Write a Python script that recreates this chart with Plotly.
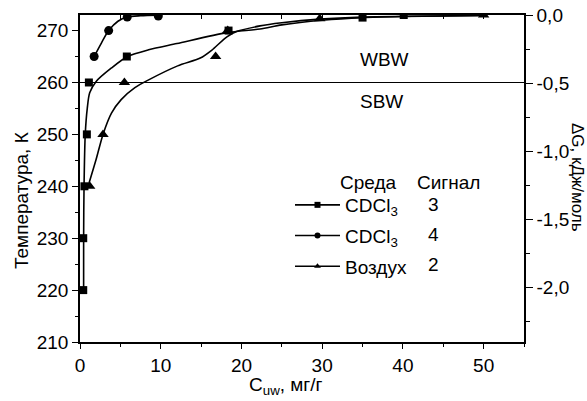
import plotly.graph_objects as go

# Measured points: temperature (K) vs unfrozen water content C_uw (mg/g)
sq_x = [0.4, 0.4, 0.55, 0.85, 1.1, 5.8, 18.4, 35.0, 40.1]
sq_y = [220, 230, 240, 250, 260, 265, 270, 272.5, 273.0]
ci_x = [1.75, 3.55, 5.85, 9.7]
ci_y = [265, 270, 272.6, 272.8]
tr_x = [1.2, 2.85, 5.5, 16.8, 18.3, 29.7, 50.0]
tr_y = [240, 250, 260, 265, 270, 272.3, 273.0]

# Smoothed curves through each data set
sq_fit_x = [0.45, 0.45, 0.5, 0.65, 0.9, 1.2, 2.0, 3.9, 5.9, 8.5, 12.0, 18.2, 22.3, 25.0, 30.0, 35.0, 40.0, 50.0]
sq_fit_y = [220, 230, 240, 250, 255, 258, 260.2, 262.8, 265.0, 266.3, 267.5, 269.6, 270.3, 271.1, 272.0, 272.5, 272.7, 272.9]
ci_fit_x = [1.75, 2.65, 3.55, 4.7, 5.85, 7.5, 9.7]
ci_fit_y = [265, 267.6, 270, 271.8, 272.6, 272.85, 272.95]
tr_fit_x = [1.0, 2.0, 2.85, 3.9, 5.1, 6.8, 8.5, 12.1, 14.9, 16.3, 18.2, 19.4, 22.3, 25.0, 29.7, 35.0, 50.0]
tr_fit_y = [240, 245.2, 250, 254.1, 256.7, 259.0, 260.5, 263.2, 264.7, 266.2, 268.8, 269.8, 270.9, 271.5, 272.2, 272.6, 272.9]

series_names = ["CDCl<sub>3</sub>", "CDCl<sub>3</sub>", "Воздух<sub> </sub>"]
signal_labels = ["3", "4", "2"]

# Axis ticks
x_ticks = [0, 10, 20, 30, 40, 50]
t_ticks = [210, 220, 230, 240, 250, 260, 270]
g_ticks = [0.0, -0.5, -1.0, -1.5, -2.0]
g_text = ["0,0", "-0,5", "-1,0", "-1,5", "-2,0"]

boundary_T = 260

W, H = 587, 401
L, R, T, B = 80, 63, 15, 59
PW, PH = W - L - R, H - T - B
FONT = "Liberation Sans, Arial, sans-serif"
FS = 19


def px(xp):
    return (xp - L) / PW


def py(yp):
    return (H - B - yp) / PH


fig = go.Figure()

line_style = dict(color="black", width=1.6, shape="spline", smoothing=0.8)
for fx, fy in [(sq_fit_x, sq_fit_y), (ci_fit_x, ci_fit_y), (tr_fit_x, tr_fit_y)]:
    fig.add_trace(go.Scatter(x=fx, y=fy, mode="lines", line=line_style,
                             showlegend=False, hoverinfo="skip"))

marker_sets = [
    (sq_x, sq_y, "square", 8),
    (ci_x, ci_y, "circle", 9),
    (tr_x, tr_y, "triangle-up", 10),
]
for i, (mx, my, sym, size) in enumerate(marker_sets):
    fig.add_trace(go.Scatter(x=mx, y=my, mode="markers",
                             marker=dict(symbol=sym, size=size, color="black"),
                             showlegend=False))
    # legend entry: line-symbol-line sample
    fig.add_trace(go.Scatter(x=[None], y=[None], mode="lines+markers",
                             name=series_names[i], legendgroup=f"g{i}",
                             line=dict(color="black", width=1.6),
                             marker=dict(symbol=sym, size=6, color="black")))

# empty trace registering the secondary axes (top ticks, right ΔG scale)
fig.add_trace(go.Scatter(x=[None], y=[None], xaxis="x2", yaxis="y2",
                         showlegend=False, hoverinfo="skip"))

fig.add_shape(type="line", xref="paper", yref="y", x0=0, x1=1,
              y0=boundary_T, y1=boundary_T, line=dict(color="black", width=1.2))

axis_font = dict(family=FONT, size=FS, color="black")

fig.update_layout(
    template="none",
    width=W, height=H,
    margin=dict(l=L, r=R, t=T, b=B, pad=0, autoexpand=False),
    paper_bgcolor="white", plot_bgcolor="white",
    font=axis_font,
    xaxis=dict(range=[0, 55], tickvals=x_ticks, ticks="outside", ticklen=5,
               tickwidth=1.3, tickcolor="black", showline=True,
               linecolor="black", linewidth=1.5, mirror=True, showgrid=False,
               zeroline=False, automargin=False,
               minor=dict(tickvals=[5, 15, 25, 35, 45, 55], ticks="outside",
                          ticklen=3, tickwidth=1.3, tickcolor="black"),
               tickfont=axis_font),
    xaxis2=dict(range=[0, 55], overlaying="x", side="top", anchor="y2",
                tickvals=[5, 10, 15, 20, 25, 30, 35, 40, 45, 50],
                ticks="inside", ticklen=4, tickwidth=1.3, tickcolor="black",
                showticklabels=False, showline=False, showgrid=False,
                zeroline=False, automargin=False),
    yaxis=dict(range=[210, 273], tickvals=t_ticks, ticks="outside", ticklen=6,
               tickwidth=1.3, tickcolor="black", showline=True,
               linecolor="black", linewidth=1.5, showgrid=False,
               zeroline=False, automargin=False,
               minor=dict(tickvals=[215, 225, 235, 245, 255, 265],
                          ticks="outside", ticklen=3, tickwidth=1.3,
                          tickcolor="black"),
               tickfont=axis_font),
    yaxis2=dict(range=[-2.4, 0], overlaying="y", side="right", anchor="x2",
                tickvals=g_ticks, ticktext=g_text, ticks="outside", ticklen=7,
                tickwidth=1.3, tickcolor="black", showline=True,
                linecolor="black", linewidth=1.5, showgrid=False,
                zeroline=False, automargin=False,
                minor=dict(tickvals=[-0.25, -0.75, -1.25, -1.75, -2.25],
                           ticks="outside", ticklen=4, tickwidth=1.3,
                           tickcolor="black"),
                tickfont=axis_font),
    legend=dict(x=px(290), y=py(186), xanchor="left", yanchor="top",
                bgcolor="rgba(0,0,0,0)", font=dict(family=FONT, size=FS),
                tracegroupgap=3, itemclick=False, itemwidth=45),
    showlegend=True,
)

ann = [
    dict(text="Температура, К", x=px(22), y=py(201), textangle=-90, size=19),
    dict(text="ΔG, кДж/моль", x=px(578), y=py(177), textangle=90, size=17),
    dict(text="C<sub>uw</sub>, мг/г", x=px(286), y=py(386), textangle=0, size=19),
    dict(text="WBW", x=px(384), y=py(60), textangle=0, size=FS),
    dict(text="SBW", x=px(381), y=py(102), textangle=0, size=FS),
    dict(text="Среда", x=px(368), y=py(182), textangle=0, size=FS),
    dict(text="Сигнал", x=px(448), y=py(182), textangle=0, size=FS),
]
for a in ann:
    fig.add_annotation(text=a["text"], x=a["x"], y=a["y"], xref="paper",
                       yref="paper", showarrow=False, textangle=a["textangle"],
                       font=dict(family=FONT, size=a["size"], color="black"),
                       xanchor="center", yanchor="middle")

for lab, yp in zip(signal_labels, [204, 234, 264]):
    fig.add_annotation(text=lab, x=px(433), y=py(yp), xref="paper", yref="paper",
                       showarrow=False, font=dict(family=FONT, size=FS, color="black"),
                       xanchor="center", yanchor="middle")

fig.write_html("out.html")
